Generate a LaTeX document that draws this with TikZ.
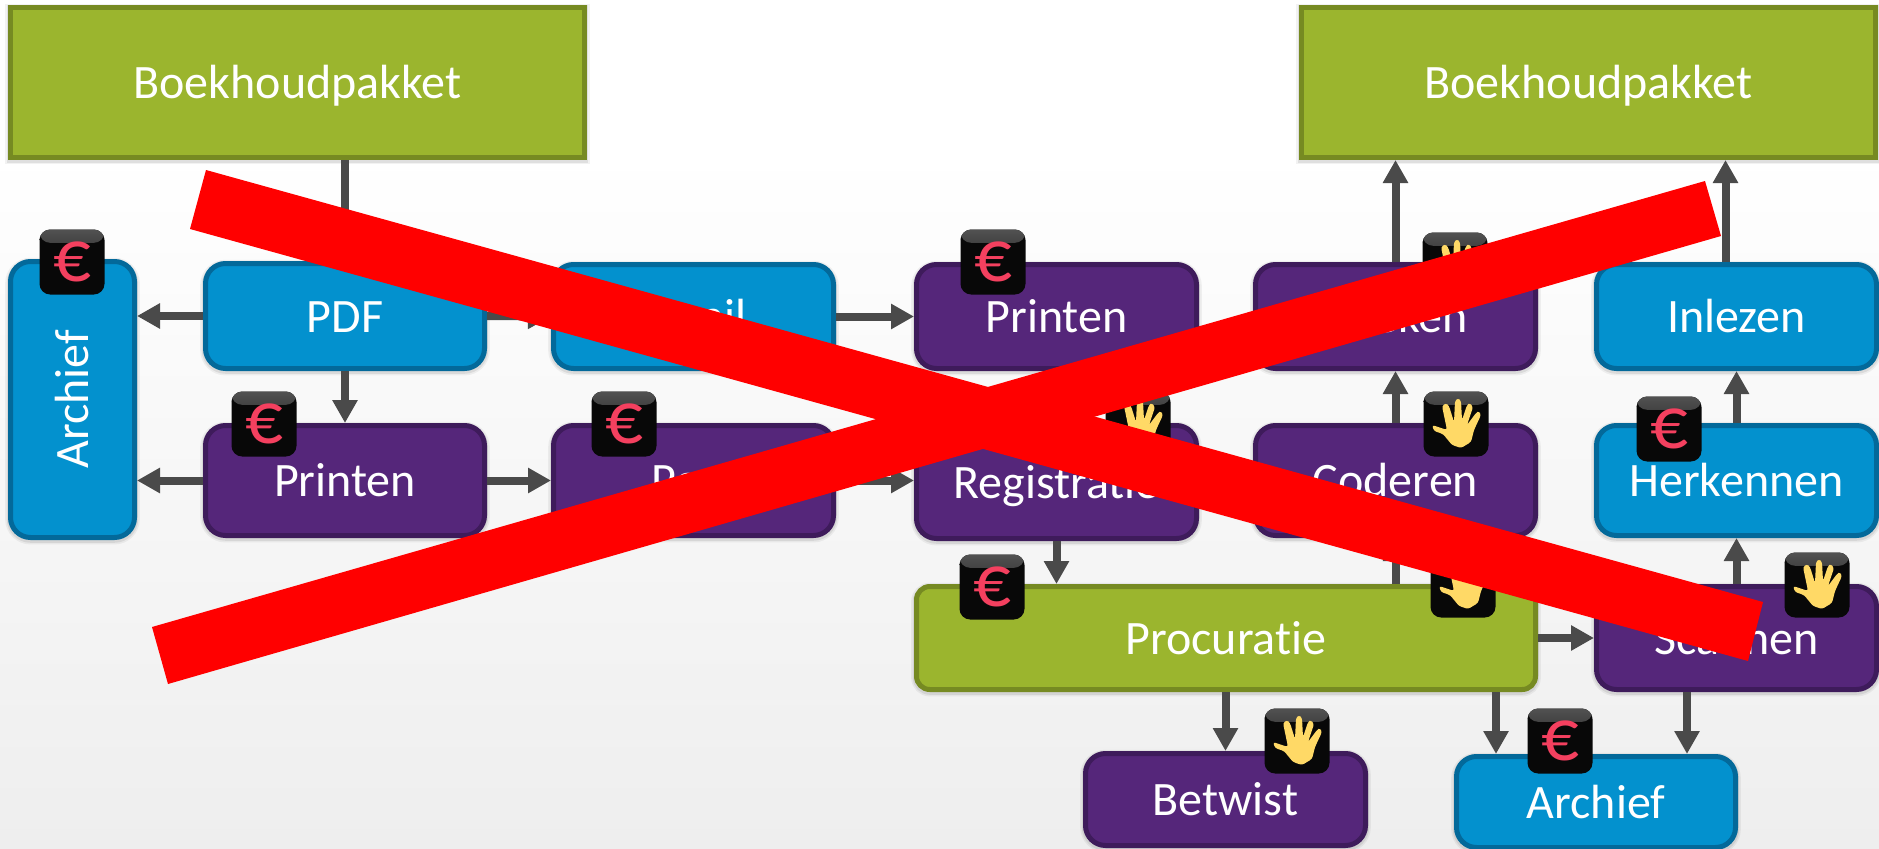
\documentclass[tikz,border=0pt]{standalone}
\usepackage{fontspec}
\setmainfont{Carlito}[Ligatures=NoCommon]
\usetikzlibrary{arrows.meta,calc}
\definecolor{bgend}{HTML}{EEEEEE}
\definecolor{bluef}{HTML}{0391CE}
\definecolor{blueb}{HTML}{03699A}
\definecolor{purpf}{HTML}{55267A}
\definecolor{purpb}{HTML}{3E1B5B}
\definecolor{greenf}{HTML}{9BB52E}
\definecolor{greenb}{HTML}{768A22}
\definecolor{arrowc}{HTML}{4A4A4A}
\definecolor{eurored}{HTML}{F4405F}
\definecolor{handy}{HTML}{FFD966}
\tikzset{
  x=.75pt,y=-.75pt,
  softshadow/.style={preaction={draw=black,draw opacity=.05,line width=8pt,transform canvas={yshift=-1.2pt}},preaction={draw=black,draw opacity=.08,line width=5.5pt,transform canvas={yshift=-1.2pt}}},
  boxbase/.style={softshadow,draw,line width=3.75pt,text=white,inner sep=0pt,font=\fontsize{36}{42}\selectfont,text height=24pt,text depth=0pt},
  bluebox/.style={boxbase,fill=bluef,draw=blueb,rounded corners=15pt},
  purpbox/.style={boxbase,fill=purpf,draw=purpb,rounded corners=15pt},
  greenbox/.style={boxbase,fill=greenf,draw=greenb,rounded corners=10pt},
  squarebox/.style={boxbase,fill=greenf,draw=greenb,sharp corners},
  arr/.style={draw=arrowc,line width=6pt,-{Triangle[length=17.25pt,width=18pt]}},
  iconshade/.style={top color=black!68,middle color=black!90,bottom color=black!97},
  iconbase/.style={rounded corners=8pt,fill=black!97,minimum width=48.75pt,minimum height=48.75pt,inner sep=0pt,
    path picture={\shade[iconshade] (path picture bounding box.north west) rectangle ([yshift=-10pt]path picture bounding box.north east);}},
  euroicon/.style={iconbase,text=eurored,font=\fontsize{56}{60}\selectfont,text height=29pt,text depth=0pt},
  handicon/.style={iconbase,path picture={
    \shade[iconshade] (path picture bounding box.north west) rectangle ([yshift=-10pt]path picture bounding box.north east);
    \begin{scope}[shift={(path picture bounding box.center)}]
      \fill[handy,rounded corners=1.8pt] (-24,1) -- (-9,6) -- (-14,-18) -- (-10,-21) -- (-7,-18) -- (-2,-2)
        -- (-1,-23) -- (2,-26) -- (5,-23) -- (6,-4) -- (11,-19) -- (14,-21) -- (17,-17) -- (11,1)
        -- (20,-11) -- (23,-13) -- (25,-9) -- (18,6) -- (15,18) -- (5,24) -- (-4,21) -- (-13,10) -- (-22,7) -- cycle;
    \end{scope}}},
}
\newcommand{\bx}[7]{%
  \pgfmathsetmacro{\cx}{(#3+#5)/2}\pgfmathsetmacro{\cy}{(#4+#6)/2}%
  \pgfmathsetmacro{\bw}{(#5-#3-5)*.75}\pgfmathsetmacro{\bh}{(#6-#4-5)*.75}%
  \node[#2,minimum width=\bw pt,minimum height=\bh pt] (#1) at (\cx,\cy) {#7};}
\begin{document}
\begin{tikzpicture}
\useasboundingbox (0,0) rectangle (1879,849);
\fill[white] (0,0) rectangle (1879,849);
\shade[top color=white,bottom color=bgend] (0,150) rectangle (1879,849);

% boxes
\bx{boekl}{squarebox}{8}{5}{587}{160}{Boekhoudpakket}
\bx{boekr}{squarebox}{1299}{5}{1878}{160}{Boekhoudpakket}
\node[bluebox,rotate=90,minimum width=207pt,minimum height=93pt] (archl) at (72.5,399.5) {Archief};
\bx{pdf}{bluebox}{203}{261}{487}{371}{PDF}
\bx{mail}{bluebox}{551}{262}{836}{371}{Email}
\bx{printa}{purpbox}{914}{262}{1199}{371}{Printen}
\bx{boeken}{purpbox}{1253}{262}{1538}{371}{Boeken}
\bx{inlezen}{bluebox}{1594}{262}{1879}{371}{Inlezen}
\bx{printb}{purpbox}{203}{423}{487}{538}{Printen}
\bx{printc}{purpbox}{551}{423}{836}{538}{Post}
\bx{regis}{purpbox}{914}{423}{1199}{541}{Registratie}
\bx{coderen}{purpbox}{1253}{423}{1538}{538}{Coderen}
\bx{herk}{bluebox}{1594}{423}{1879}{538}{Herkennen}
\bx{procu}{greenbox}{914}{584}{1538}{692}{Procuratie}
\bx{scan}{purpbox}{1594}{584}{1879}{692}{Scannen}
\bx{betw}{purpbox}{1083}{751}{1368}{848}{Betwist}
\bx{archr}{bluebox}{1454}{754}{1738}{850}{Archief}

% connectors
\draw[arr] (pdf.north |- boekl.south) -- (pdf.north);
\draw[arr] (pdf.west) -- (archl.south |- pdf.west);
\draw[arr] (printb.west) -- (archl.south |- printb.west);
\draw[arr] (pdf.south) -- (printb.north);
\draw[arr] (pdf.east) -- (mail.west);
\draw[arr] (mail.east) -- (printa.west);
\draw[arr] (printb.east) -- (printc.west);
\draw[arr] (printc.east) -- (regis.west |- printc.east);
\draw[arr] (regis.south) -- (regis.south |- procu.north);
\draw[arr] (coderen.north) -- (boeken.south);
\draw[arr] (coderen.south |- procu.north) -- (coderen.south);
\draw[arr] (boeken.north) -- (boeken.north |- boekr.south);
\draw[arr] ([xshift=-8.25pt]inlezen.north) -- ([xshift=-8.25pt]inlezen.north |- boekr.south);
\draw[arr] (herk.north) -- (inlezen.south);
\draw[arr] (scan.north) -- (herk.south);
\draw[arr] (procu.east) -- (scan.west);
\draw[arr] (betw.north |- procu.south) -- (betw.north);
\draw[arr] ([xshift=-75pt]archr.north |- procu.south) -- ([xshift=-75pt]archr.north);
\draw[arr] ([xshift=68.25pt]archr.north |- scan.south) -- ([xshift=68.25pt]archr.north);

% icons
\node[euroicon] (ia) at (72,262) {€};
\node[euroicon] (ib) at (264,424) {€};
\node[euroicon] (ic) at (624,424) {€};
\node[euroicon] (id) at (993,262) {€};
\node[euroicon] (ie) at (992,587) {€};
\node[euroicon] (if) at (1669,429) {€};
\node[euroicon] (ig) at (1560,741) {€};
\node[handicon] (ha) at (1455,265) {};
\node[handicon] (hb) at (1456,424) {};
\node[handicon] (hc) at (1138,424) {};
\node[handicon] (hd) at (1463,585) {};
\node[handicon] (he) at (1817,585) {};
\node[handicon] (hf) at (1297,741) {};

% red cross
\fill[red] (206,170) -- (1763,602) -- (1748,661) -- (190,229) -- cycle;
\fill[red] (152,627) -- (1705,181) -- (1721,236) -- (168,684) -- cycle;
\end{tikzpicture}
\end{document}
